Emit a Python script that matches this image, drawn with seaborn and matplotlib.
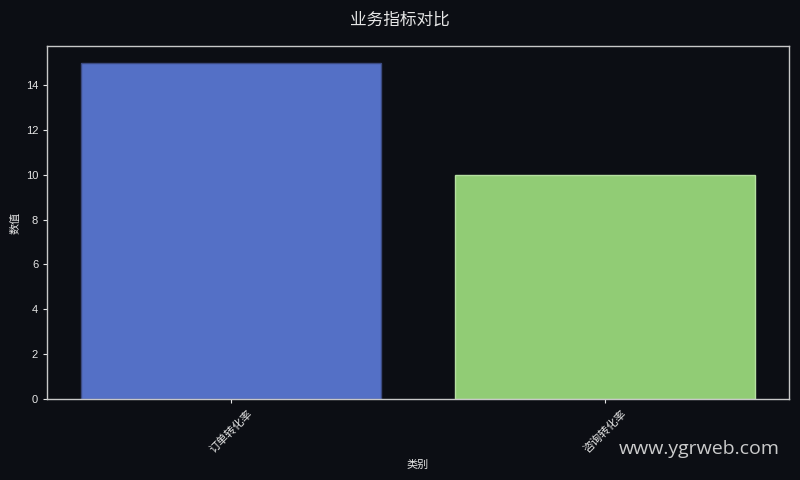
import pandas as pd
import matplotlib.pyplot as plt
import seaborn as sns

categories = ['订单转化率', '咨询转化率']
values = [15, 10]
colors = ['#5470c6', '#91cc75']

bg = '#0c0e14'
fg = '#e6e6e6'

sns.set_style('dark')
plt.rcParams['font.family'] = ['Liberation Sans', 'Noto Sans CJK SC', 'DejaVu Sans']

df = pd.DataFrame({'类别': categories, '数值': values})

fig, ax = plt.subplots(figsize=(8, 4.8), dpi=100)
fig.patch.set_facecolor(bg)
ax.set_facecolor(bg)

sns.barplot(data=df, x='类别', y='数值', hue='类别', palette=colors,
            legend=False, saturation=1, width=0.8, ax=ax,
            edgecolor='#3b4a80', linewidth=1)
ax.patches[1].set_edgecolor('#b5e0a0')

# same x margins as plain plt.bar
ax.set_xmargin(0.05)
ax.autoscale(enable=True, axis='x')

for s in ax.spines.values():
    s.set_color('#c8c8c8')
    s.set_linewidth(1)

ax.tick_params(colors=fg, labelsize=8, length=3)
ax.tick_params(axis='both', which='both', left=True, bottom=True)
plt.setp(ax.get_xticklabels(), rotation=45, ha='center')
ax.set_xlabel('类别', color=fg, fontsize=8)
ax.set_ylabel('数值', color=fg, fontsize=8)
ax.grid(False)

fig.suptitle('业务指标对比', color=fg, fontsize=12, y=0.975)
fig.text(0.975, 0.065, 'www.ygrweb.com', color='#e0e0e0', fontsize=14,
         ha='right', va='center', family=['Open Sans', 'DejaVu Sans'], alpha=0.9)

plt.subplots_adjust(left=0.059, right=0.986, top=0.904, bottom=0.169)
plt.savefig('out.png', facecolor=bg)
